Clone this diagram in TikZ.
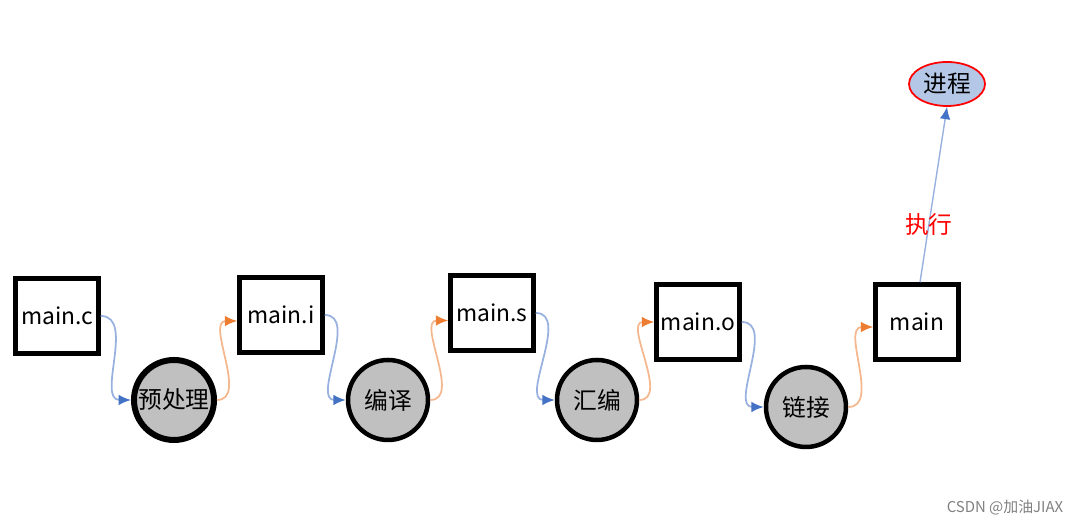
\documentclass[tikz,border=0pt]{standalone}
\usepackage{fontspec}
\setmainfont{Noto Sans CJK SC}
\usepackage{xcolor}
\usepackage{tikz}
\usetikzlibrary{arrows.meta,positioning,shapes.geometric}
\definecolor{arrblue}{HTML}{4472C4}
\definecolor{arrorange}{HTML}{ED7D31}
\definecolor{stepgray}{HTML}{C0C0C0}
\definecolor{procblue}{HTML}{B4C7E7}
\tikzset{
  filebox/.style={draw, line width=0.09cm, fill=white, minimum width=1.66cm,
                  minimum height=1.5cm, inner sep=0pt, font=\fontsize{13}{15}\selectfont},
  stepnode/.style={draw, circle, line width=0.09cm, fill=stepgray, minimum size=1.6cm,
                   inner sep=0pt, font=\fontsize{13.5}{15}\selectfont},
  procnode/.style={draw=red, ellipse, line width=1pt, fill=procblue, minimum width=1.52cm,
                   minimum height=0.88cm, inner sep=0pt, font=\fontsize{13.5}{15}\selectfont},
  inflow/.style={draw=arrblue!55, line width=1pt, -{Latex[length=7pt,width=6pt,color=arrblue]}},
  outflow/.style={draw=arrorange!55, line width=1pt, -{Latex[length=7pt,width=6pt,color=arrorange]}},
}

\begin{document}
\begin{tikzpicture}
    \useasboundingbox (0,0) rectangle (21.62,10.52);
    % files
    \node[filebox] (mc) at (1.14,4.20)  {main.c};
    \node[filebox] (mi) at (5.62,4.22)  {main.i};
    \node[filebox] (ms) at (9.84,4.26)  {main.s};
    \node[filebox] (mo) at (13.96,4.08) {main.o};
    \node[filebox] (mn) at (18.34,4.08) {main};
    % steps
    \node[stepnode, line width=0.12cm] (pre) at (3.48,2.52)  {预处理};
    \node[stepnode] (cmp) at (7.76,2.52)  {编译};
    \node[stepnode] (asm) at (11.94,2.52) {汇编};
    \node[stepnode] (lnk) at (16.12,2.38) {链接};
    \node[procnode] (proc) at (18.94,8.84) {进程};
    % flow
    \draw[inflow] (mc.east) to[out=0, in=180] (pre.west);
    \draw[outflow] (pre.east) to[out=0, in=180] ([yshift=-0.12cm]mi.west);
    \draw[inflow] (mi.east) to[out=0, in=180] (cmp.west);
    \draw[outflow] (cmp.east) to[out=0, in=180] ([yshift=-0.15cm]ms.west);
    \draw[inflow] (ms.east) to[out=0, in=180] (asm.west);
    \draw[outflow] (asm.east) to[out=0, in=180] (mo.west);
    \draw[inflow] (mo.east) to[out=0, in=180] (lnk.west);
    \draw[outflow] (lnk.east) to[out=0, in=180] ([yshift=-0.1cm]mn.west);
    \draw[inflow, line width=0.8pt] ([xshift=0.06cm]mn.north) -- node[pos=0.33, text=red, font=\fontsize{13.5}{15}\selectfont]{执行} (proc.south);
    \node[text=gray, font=\fontsize{8.5}{10}\selectfont] (mark) at (20.1,0.36) {CSDN @加油JIAX};
\end{tikzpicture}
\end{document}
